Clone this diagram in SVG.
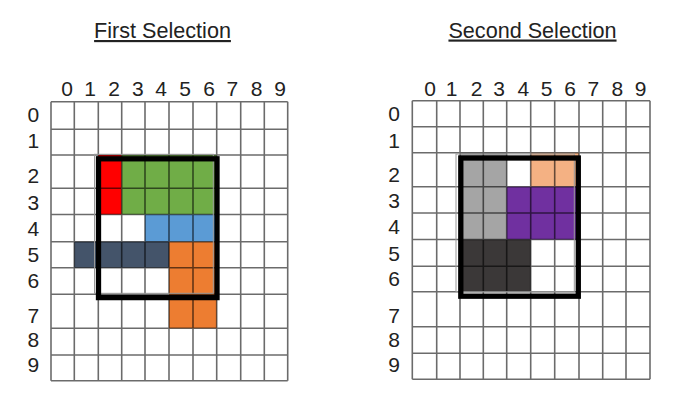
<svg xmlns="http://www.w3.org/2000/svg" width="692" height="418" viewBox="0 0 692 418">
<style>
text{font-family:"Liberation Sans",Arial,sans-serif;fill:#222}
.title{font-size:21.6px;text-anchor:middle;text-decoration:underline}
.col{font-size:21px;text-anchor:middle}
.row{font-size:21px;text-anchor:middle}
.grid{fill:none;stroke:#000;stroke-opacity:0.58;stroke-width:1.6}
.frame{fill:none;stroke:#000;stroke-width:5.3}
.ghost{fill:none;stroke:#999;stroke-width:1}
</style>
<rect width="692" height="418" fill="#fff"/>

<g id="first-selection">
<text class="title" x="162.5" y="38">First Selection</text>
<g id="first-cells">
<rect x="98.3" y="155" width="23.4" height="59.5" fill="#ff0000"/>
<rect x="121.7" y="155" width="95" height="59.5" fill="#70ad47"/>
<rect x="145" y="214.5" width="71.7" height="27.2" fill="#5b9bd5"/>
<rect x="74.3" y="241.7" width="94.7" height="26" fill="#44546a"/>
<rect x="169" y="241.7" width="47.7" height="86.6" fill="#ed7d31"/>
</g>
<path class="grid" d="M51 101.7V380.7M74.3 101.7V380.7M98.3 101.7V380.7M121.7 101.7V380.7M145 101.7V380.7M169 101.7V380.7M193 101.7V380.7M216.7 101.7V380.7M240.7 101.7V380.7M264.3 101.7V380.7M287.7 101.7V380.7M51 101.7H287.7M51 129.3H287.7M51 155H287.7M51 188.3H287.7M51 214.5H287.7M51 241.7H287.7M51 267.7H287.7M51 294.3H287.7M51 328.3H287.7M51 355H287.7M51 380.7H287.7"/>
<rect class="ghost" x="94.5" y="154.3" width="118.8" height="139"/>
<rect class="frame" x="98.5" y="158.8" width="118.5" height="138.8"/>
<g id="first-col-labels">
<text class="col" x="67" y="95.7">0</text><text class="col" x="90" y="95.7">1</text><text class="col" x="114.2" y="95.7">2</text><text class="col" x="137.8" y="95.7">3</text><text class="col" x="161" y="95.7">4</text><text class="col" x="185" y="95.7">5</text><text class="col" x="209" y="95.7">6</text><text class="col" x="232.3" y="95.7">7</text><text class="col" x="256.7" y="95.7">8</text><text class="col" x="280" y="95.7">9</text>
</g>
<g id="first-row-labels">
<text class="row" x="33.3" y="122.3">0</text><text class="row" x="33.3" y="148.3">1</text><text class="row" x="33.3" y="183.3">2</text><text class="row" x="33.3" y="210">3</text><text class="row" x="33.3" y="235.7">4</text><text class="row" x="33.3" y="261.7">5</text><text class="row" x="33.3" y="287.7">6</text><text class="row" x="33.3" y="323.3">7</text><text class="row" x="33.3" y="346.7">8</text><text class="row" x="33.3" y="372.3">9</text>
</g>
</g>

<g id="second-selection">
<text class="title" x="532.5" y="37.5">Second Selection</text>
<g id="second-cells">
<rect x="460" y="152.7" width="46.7" height="86.8" fill="#a5a5a5"/>
<rect x="530.7" y="152.7" width="48.3" height="34" fill="#f4b183"/>
<rect x="506.7" y="186.7" width="72.3" height="52.8" fill="#7030a0"/>
<rect x="460" y="239.5" width="70.7" height="52.2" fill="#3b3838"/>
</g>
<path class="grid" d="M412.3 100.7V379.3M436.7 100.7V379.3M460 100.7V379.3M483.3 100.7V379.3M506.7 100.7V379.3M530.7 100.7V379.3M554.7 100.7V379.3M579 100.7V379.3M602.7 100.7V379.3M626 100.7V379.3M650 100.7V379.3M412.3 100.7H650M412.3 126.7H650M412.3 152.7H650M412.3 186.7H650M412.3 213H650M412.3 239.5H650M412.3 266.3H650M412.3 291.7H650M412.3 326.7H650M412.3 353.3H650M412.3 379.3H650"/>
<rect class="ghost" x="456" y="154" width="118.3" height="137.7"/>
<rect class="frame" x="460.8" y="158" width="117.5" height="138.2"/>
<g id="second-col-labels">
<text class="col" x="430" y="95.7">0</text><text class="col" x="451.7" y="95.7">1</text><text class="col" x="476.7" y="95.7">2</text><text class="col" x="499" y="95.7">3</text><text class="col" x="523.3" y="95.7">4</text><text class="col" x="546.7" y="95.7">5</text><text class="col" x="570" y="95.7">6</text><text class="col" x="593.3" y="95.7">7</text><text class="col" x="617.3" y="95.7">8</text><text class="col" x="640.7" y="95.7">9</text>
</g>
<g id="second-row-labels">
<text class="row" x="394" y="121">0</text><text class="row" x="394" y="147.7">1</text><text class="row" x="394" y="182.3">2</text><text class="row" x="394" y="208.3">3</text><text class="row" x="394" y="234.3">4</text><text class="row" x="394" y="260.7">5</text><text class="row" x="394" y="286">6</text><text class="row" x="394" y="322.7">7</text><text class="row" x="394" y="346.7">8</text><text class="row" x="394" y="371.7">9</text>
</g>
</g>
</svg>
